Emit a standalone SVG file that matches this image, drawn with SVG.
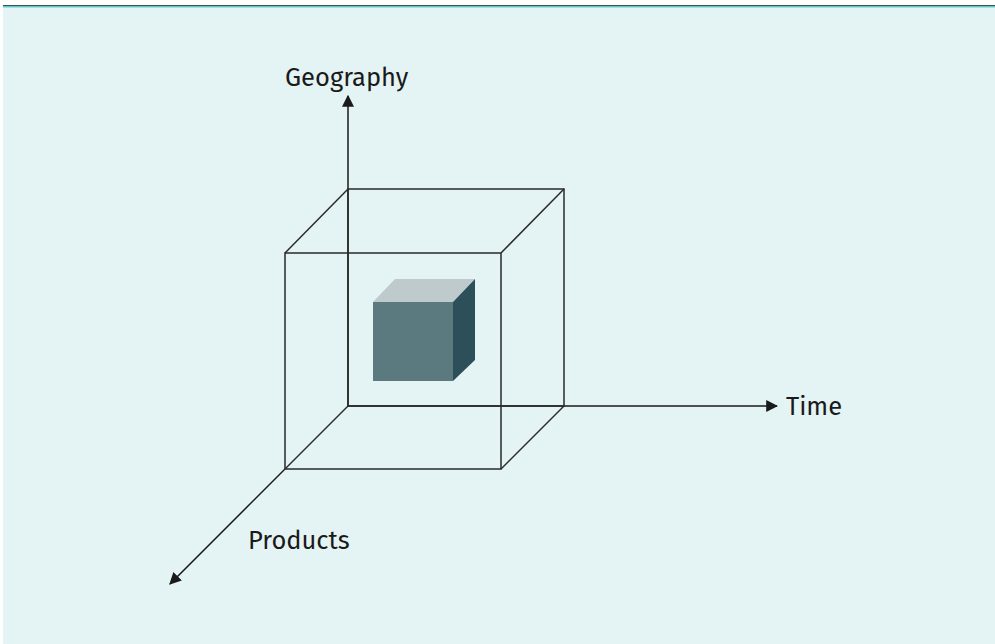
<svg xmlns="http://www.w3.org/2000/svg" width="995" height="644" viewBox="0 0 995 644">
<defs>
<style>
.ax{stroke:#1a1a1a;stroke-width:1.5;fill:none}
.bx{stroke:#2a2a2a;stroke-width:1.5;fill:none}
.lbl{font-family:"Fira Sans","Noto Sans","Open Sans",sans-serif;font-size:25.5px;fill:#1a1a1a}
</style>
<marker id="arr" viewBox="0 0 10 10" refX="9" refY="5" markerWidth="12" markerHeight="12" markerUnits="userSpaceOnUse" orient="auto">
<path d="M0,0 L10,5 L0,10 z" fill="#1a1a1a"/>
</marker>
</defs>
<rect x="0" y="0" width="995" height="644" fill="#ffffff"/>
<rect x="3" y="5" width="992" height="639" fill="#e4f3f3"/>
<rect x="3" y="5" width="992" height="1.2" fill="#2f5a60"/>
<rect x="3" y="6.2" width="992" height="1.2" fill="#4fc0c0"/>
<g id="connectors">
<line class="ax" x1="348" y1="406" x2="348" y2="96" marker-end="url(#arr)"/>
<line class="ax" x1="348" y1="406" x2="777" y2="406" marker-end="url(#arr)"/>
<line class="ax" x1="285" y1="469" x2="170" y2="584" marker-end="url(#arr)"/>
</g>
<g id="outer-cube">
<rect class="bx" x="348" y="189" width="216" height="217"/>
<rect class="bx" x="285" y="253" width="216" height="216"/>
<line class="bx" x1="285" y1="253" x2="348" y2="189"/>
<line class="bx" x1="501" y1="253" x2="564" y2="189"/>
<line class="bx" x1="501" y1="469" x2="564" y2="406"/>
<line class="bx" x1="285" y1="469" x2="348" y2="406"/>
</g>
<g id="inner-cube">
<polygon points="373,302 395,279 475,279 453,302" fill="#bfcacd"/>
<polygon points="453,302 475,279 475,360 453,381" fill="#2c4f5a"/>
<rect x="373" y="302" width="80" height="79" fill="#5b7a80"/>
</g>
<g id="label-geography"><text class="lbl" x="285" y="86">Geography</text></g>
<g id="label-time"><text class="lbl" x="786" y="415">Time</text></g>
<g id="label-products"><text class="lbl" x="248" y="549">Products</text></g>
</svg>
